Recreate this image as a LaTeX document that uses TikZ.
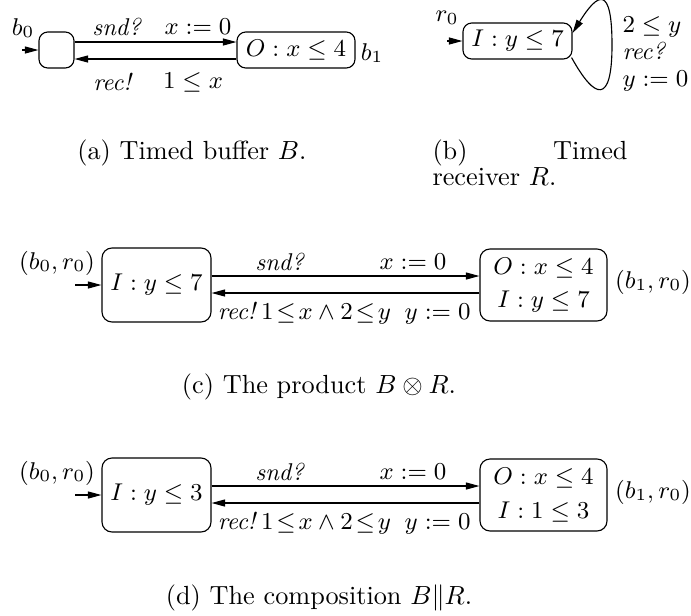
\RequirePackage{fix-cm}
\documentclass[tikz,border=0pt]{standalone}
\usetikzlibrary{arrows.meta}
\def\u{0.4pt}
\tikzset{
  loc/.style={draw, line width=0.45pt, rounded corners=3.5pt, inner sep=0pt},
  lab/.style={inner sep=0pt, font=\fontsize{9.7}{11.6}\selectfont},
  captxt/.style={inner sep=0pt, font=\fontsize{10.5}{12.6}\selectfont},
  conn/.style={line width=0.45pt, -{Triangle[length=5.4pt,width=2.8pt]}},
  twoline/.style={align=center, font=\fontsize{9.7}{13.4}\selectfont},
}
\newcommand{\tleq}{\mskip2mu{\leq}\mskip2mu}
\begin{document}
\begin{tikzpicture}[x=0.4pt,y=-0.4pt]
\useasboundingbox (0,0) rectangle (691,615);
% ---------------- (a) ----------------
\node[loc, minimum width=35*\u, minimum height=36*\u] (a0) at (56.5,50) {};
\node[loc, lab, minimum width=118*\u, minimum height=36*\u] (a1) at (296,50) {$O: x\leq 4$};
\coordinate (ai) at (22,50);
\draw[conn] (ai) -- (a0.west);
\draw[conn] ([yshift=8*\u]a0.east) -- ([yshift=8*\u]a1.west);
\draw[conn] ([yshift=-9*\u]a1.west) -- ([yshift=-9*\u]a0.east);
\node[lab] (lb0) at (23,28) {$b_0$};
\node[lab] (lb1) at (372,53) {$b_1$};
\node[lab] (as) at (117,27) {\textit{snd?}};
\node[lab] (ax) at (198,27) {$x:=0$};
\node[lab] (ar) at (113,82) {\textit{rec!}};
\node[lab] (ag) at (193,82) {$1\leq x$};
\node[captxt, anchor=base east] (capa) at (307,159) {(a) Timed buffer $B$.};
% ---------------- (b) ----------------
\node[loc, lab, minimum width=109*\u, minimum height=36*\u] (r0) at (517.5,41) {$I: y\leq 7$};
\coordinate (ri) at (447,41);
\draw[conn] (ri) -- (r0.west);
\node[lab] (lr0) at (447,18) {$r_0$};
\draw[conn] ([shift={(-1*\u,2*\u)}]r0.south east) .. controls (595,100) and (612,105) .. (612,45)
  .. controls (612,-15) and (598,-8) .. ([yshift=8*\u]r0.east);
\node[lab, anchor=west] (rg) at (622,27) {$2\leq y$};
\node[lab, anchor=west] (rr) at (622,51) {\textit{rec?}};
\node[lab, anchor=west] (ry) at (622,81) {$y:=0$};
\node[captxt, anchor=base west] (capb1) at (432,159) {(b)};
\node[captxt, anchor=base east] (capb2) at (628,159) {Timed};
\node[captxt, anchor=base west] (capb3) at (432,185) {receiver $R$.};
% ---------------- (c) ----------------
\node[loc, lab, rounded corners=4pt, minimum width=109*\u, minimum height=74*\u] (c0) at (156.5,285) {$I: y\leq 7$};
\node[loc, lab, twoline, rounded corners=4pt, minimum width=127*\u, minimum height=72*\u] (c1) at (543.5,285)
  {\raisebox{-1.4pt}{$O: x\leq 4$}\\\raisebox{-1.4pt}{$I: y\leq 7$}};
\coordinate (ci) at (75,285);
\draw[conn] (ci) -- (c0.west);
\draw[conn] ([yshift=9*\u]c0.east) -- ([yshift=9*\u]c1.west);
\draw[conn] ([yshift=-8*\u]c1.west) -- ([yshift=-8*\u]c0.east);
\node[lab] (lc0) at (57,263) {$(b_0,r_0)$};
\node[lab] (lc1) at (653,282) {$(b_1,r_0)$};
\node[lab] (cs) at (280,262) {\textit{snd?}};
\node[lab] (cx) at (413,262) {$x:=0$};
\node[lab, anchor=east] (cr) at (471,313) {\textit{rec!}$\,1\tleq x\wedge 2\tleq y\;\; y:=0$};
\node[captxt, anchor=base] (capc) at (319,393) {(c) The product $B\otimes R$.};
% ---------------- (d) ----------------
\node[loc, lab, rounded corners=4pt, minimum width=109*\u, minimum height=74*\u] (d0) at (156.5,495) {$I: y\leq 3$};
\node[loc, lab, twoline, rounded corners=4pt, minimum width=127*\u, minimum height=72*\u] (d1) at (543.5,495)
  {\raisebox{-1.4pt}{$O: x\leq 4$}\\\raisebox{-1.4pt}{$I: 1\leq 3$}};
\coordinate (di) at (75,495);
\draw[conn] (di) -- (d0.west);
\draw[conn] ([yshift=9*\u]d0.east) -- ([yshift=9*\u]d1.west);
\draw[conn] ([yshift=-8*\u]d1.west) -- ([yshift=-8*\u]d0.east);
\node[lab] (ld0) at (57,473) {$(b_0,r_0)$};
\node[lab] (ld1) at (653,492) {$(b_1,r_0)$};
\node[lab] (ds) at (280,472) {\textit{snd?}};
\node[lab] (dx) at (413,472) {$x:=0$};
\node[lab, anchor=east] (dr) at (471,523) {\textit{rec!}$\,1\tleq x\wedge 2\tleq y\;\; y:=0$};
\node[captxt, anchor=base] (capd) at (319,604) {(d) The composition $B\|R$.};
\end{tikzpicture}
\end{document}
